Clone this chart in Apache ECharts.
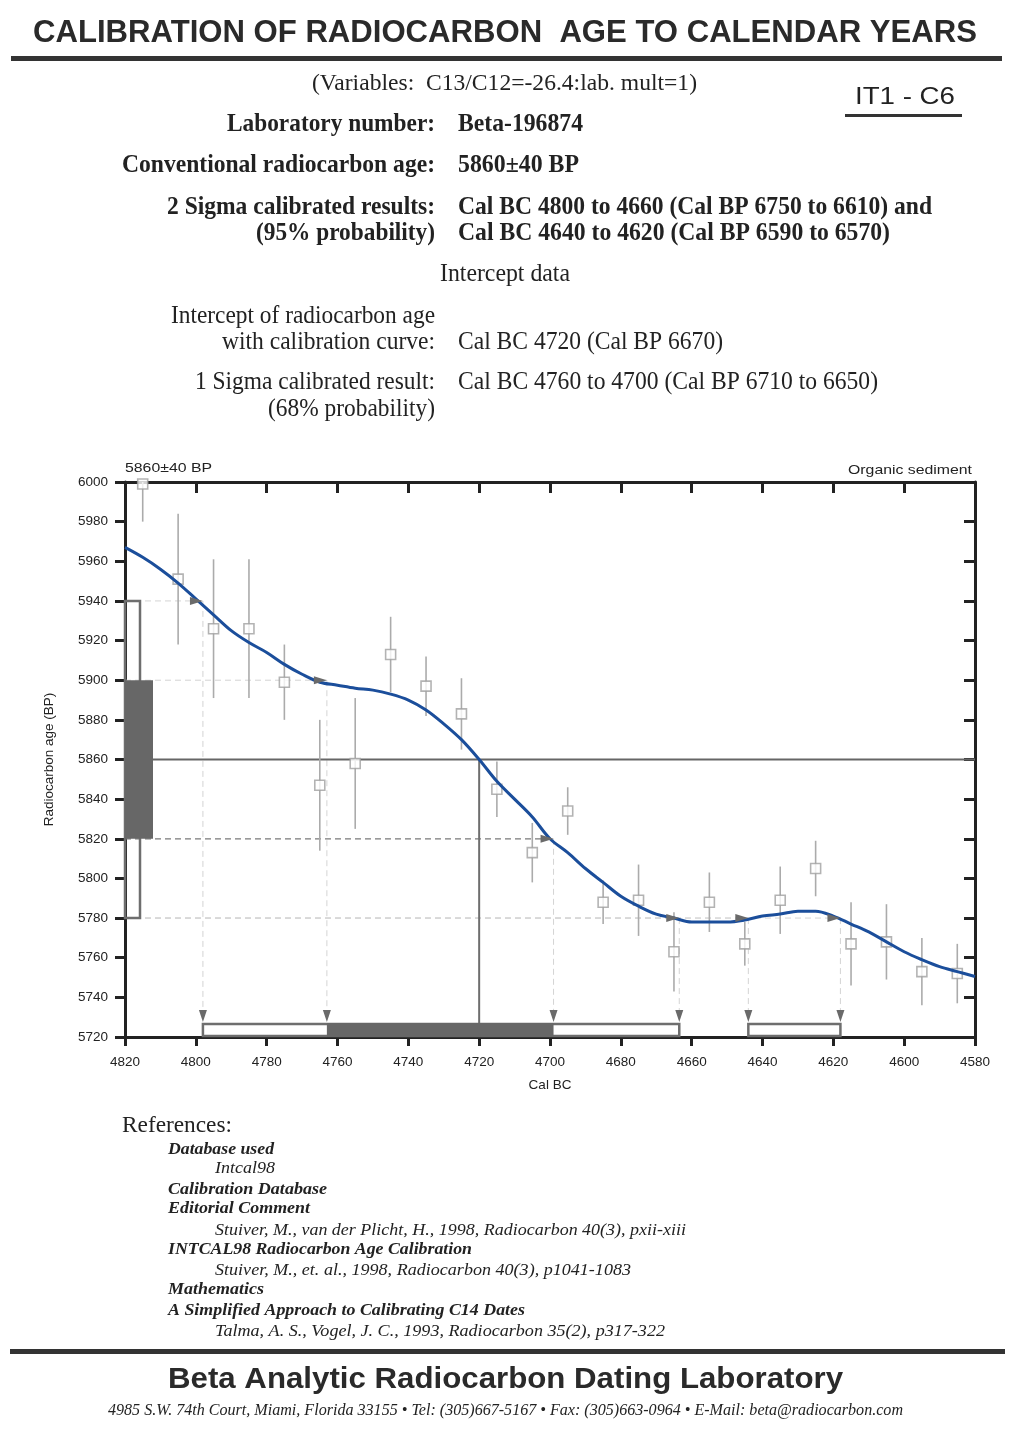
<!DOCTYPE html>
<html>
<head>
<meta charset="utf-8">
<script src="https://cdn.jsdelivr.net/npm/echarts@6/dist/echarts.min.js"></script>
<style>
html,body{margin:0;padding:0;background:#fff;}
#page{width:1012px;height:1436px;}
</style>
</head>
<body>
<div id="page"></div>
<script>
// ---------------- DATA ----------------
const xMin = 4580, xMax = 4820, xInterval = 20;           // Cal BC
const yMin = 5720, yMax = 6000, yInterval = 20;           // Radiocarbon age BP

// Calibration curve (INTCAL98)
const curveYears = [4820,4815,4810,4805,4800,4795,4790,4785,4780,4775,4770,4765,4760,4755,4750,4745,4740,4735,4730,4725,4720,4715,4710,4705,4700,4695,4690,4685,4680,4675,4670,4665,4660,4655,4650,4645,4640,4635,4630,4625,4620,4615,4610,4605,4600,4595,4590,4585,4580];
const curveBP    = [5967,5962,5956,5949,5941,5933,5925,5919,5914,5908,5903,5899,5897.5,5896,5895,5893,5890,5885,5878,5870,5860,5849,5840,5831,5820,5813,5805,5798,5791,5786,5782,5780,5778,5778,5778,5779,5781,5782,5783.5,5783.5,5781,5777,5773,5768,5763,5759,5755.5,5753,5750.5];

// Dataset points with 1-sigma error bars
const sampleYears = [4815,4805,4795,4785,4775,4765,4755,4745,4735,4725,4715,4705,4695,4685,4675,4665,4655,4645,4635,4625,4615,4605,4595,4585];
const sampleBP    = [5999,5951,5926,5926,5899,5847,5858,5913,5897,5883,5845,5813,5834,5788,5789,5763,5788,5767,5789,5805,5767,5768,5753,5752];
const sampleErr   = [19,33,35,35,19,33,33,19,15,18,14,15,12,11,18,20,15,11,17,14,21,19,17,15];

// Measured age and sigma ranges
const measuredAge = 5860;
const oneSigmaBP = [5820, 5900];
const twoSigmaBP = [5780, 5940];
const interceptCal = 4720;
const oneSigmaCal = [[4763, 4699]];
const twoSigmaCal = [[4798, 4663.5], [4644, 4618]];
// crossings of sigma limits with the curve
const crossBP  = [5940, 5900, 5820, 5780, 5780, 5780];
const crossCal = [4798, 4763, 4699, 4663.5, 4644, 4618];

// ---------------- CHART ----------------
const chart = echarts.init(document.getElementById('page'), null, {renderer:'canvas', width:1012, height:1436});
const SANS = "'Liberation Sans', Arial, sans-serif";
const SERIF = "'Liberation Serif', 'Times New Roman', serif";
const INK = '#222';

const mctx = document.createElement('canvas').getContext('2d');
function fit(text, font, w){ mctx.font = font; return w / mctx.measureText(text).width; }
function txt(text, x, y, font, w, align, fill){
  const s = w ? fit(text, font, w) : 1;
  return {type:'text', x:x, y:y, scaleX:s, originX:0, originY:0, z:100,
    style:{text:text, x:0, y:0, font:font, fill:fill||INK, align:align||'left', verticalAlign:'middle', textAlign:align||'left', textVerticalAlign:'middle'}};
}

const graphics = [
  txt('CALIBRATION OF RADIOCARBON  AGE TO CALENDAR YEARS', 33, 33, "bold 32px "+SANS, 944, 'left', '#2a2a2a'),
  {type:'rect', shape:{x:11, y:56, width:991, height:5}, style:{fill:'#333'}},
  txt('(Variables:  C13/C12=-26.4:lab. mult=1)', 312, 84, "23px "+SERIF, 385),
  txt('IT1 - C6', 855, 98, "23px "+SANS, 100),
  {type:'rect', shape:{x:845, y:114, width:117, height:3}, style:{fill:'#333'}},
  txt('Laboratory number:', 435, 125, "bold 25px "+SERIF, 208, 'right'),
  txt('Beta-196874', 458, 125, "bold 25px "+SERIF, 125),
  txt('Conventional radiocarbon age:', 435, 166, "bold 25px "+SERIF, 313, 'right'),
  txt('5860±40 BP', 458, 166, "bold 25px "+SERIF, 121),
  txt('2 Sigma calibrated results:', 435, 208, "bold 25px "+SERIF, 268, 'right'),
  txt('Cal BC 4800 to 4660 (Cal BP 6750 to 6610) and', 458, 208, "bold 25px "+SERIF, 474),
  txt('(95% probability)', 435, 234, "bold 25px "+SERIF, 179, 'right'),
  txt('Cal BC 4640 to 4620 (Cal BP 6590 to 6570)', 458, 234, "bold 25px "+SERIF, 432),
  txt('Intercept data', 440, 274, "25px "+SERIF, 130),
  txt('Intercept of radiocarbon age', 435, 316, "25px "+SERIF, 264, 'right'),
  txt('with calibration curve:', 435, 342, "25px "+SERIF, 213, 'right'),
  txt('Cal BC 4720 (Cal BP 6670)', 458, 342, "25px "+SERIF, 265),
  txt('1 Sigma calibrated result:', 435, 382, "25px "+SERIF, 240, 'right'),
  txt('Cal BC 4760 to 4700 (Cal BP 6710 to 6650)', 458, 382, "25px "+SERIF, 420),
  txt('(68% probability)', 435, 409, "25px "+SERIF, 167, 'right'),

  txt('5860±40 BP', 125, 468, "13px "+SANS, 87),
  txt('Organic sediment', 972, 470, "13px "+SANS, 124, 'right'),

  txt('References:', 122, 1126, "24px "+SERIF, 110),
  txt('Database used', 168, 1150, "italic bold 17px "+SERIF, 106),
  txt('Intcal98', 215, 1169, "italic 17px "+SERIF, 60),
  txt('Calibration Database', 168, 1190, "italic bold 17px "+SERIF, 159),
  txt('Editorial Comment', 168, 1209, "italic bold 17px "+SERIF, 142),
  txt('Stuiver, M., van der Plicht, H., 1998, Radiocarbon 40(3), pxii-xiii', 215, 1231, "italic 17px "+SERIF, 471),
  txt('INTCAL98 Radiocarbon Age Calibration', 168, 1250, "italic bold 17px "+SERIF, 304),
  txt('Stuiver, M., et. al., 1998, Radiocarbon 40(3), p1041-1083', 215, 1271, "italic 17px "+SERIF, 416),
  txt('Mathematics', 168, 1290, "italic bold 17px "+SERIF, 96),
  txt('A Simplified Approach to Calibrating C14 Dates', 168, 1311, "italic bold 17px "+SERIF, 357),
  txt('Talma, A. S., Vogel, J. C., 1993, Radiocarbon 35(2), p317-322', 215, 1332, "italic 17px "+SERIF, 450),
  {type:'rect', shape:{x:10, y:1349, width:995, height:5}, style:{fill:'#333'}},
  txt('Beta Analytic Radiocarbon Dating Laboratory', 168, 1380, "bold 30px "+SANS, 675, 'left', '#2a2a2a'),
  txt('4985 S.W. 74th Court, Miami, Florida 33155 • Tel: (305)667-5167 • Fax: (305)663-0964 • E-Mail: beta@radiocarbon.com', 108, 1411, "italic 16px "+SERIF, 795)
];

const axisLineStyle = {color:INK, width:3};
const BAR_H = 14;
const plain = v => String(v);

function gridBottom(api){ return api.coord([xMax, yMin])[1]; }

const option = {
  animation:false,
  backgroundColor:'#fff',
  grid:{left:125, right:37, top:482, bottom:399, containLabel:false},
  xAxis:[
    {type:'value', min:xMin, max:xMax, interval:xInterval, inverse:true, position:'bottom',
     axisLine:{show:true, onZero:false, lineStyle:axisLineStyle},
     axisTick:{show:true, length:9, lineStyle:{color:INK, width:3}},
     axisLabel:{fontSize:13.5, color:INK, margin:18, fontFamily:SANS, formatter:plain},
     splitLine:{show:false},
     name:'Cal BC', nameLocation:'middle', nameGap:41, nameTextStyle:{fontSize:13.5, color:INK, fontFamily:SANS}},
    {type:'value', min:xMin, max:xMax, interval:xInterval, inverse:true, position:'top',
     axisLine:{show:true, onZero:false, lineStyle:axisLineStyle},
     axisTick:{show:true, inside:true, length:11, lineStyle:{color:INK, width:3}},
     axisLabel:{show:false}, splitLine:{show:false}}
  ],
  yAxis:[
    {type:'value', min:yMin, max:yMax, interval:yInterval, position:'left',
     axisLine:{show:true, onZero:false, lineStyle:axisLineStyle},
     axisTick:{show:true, length:10, lineStyle:{color:INK, width:3}},
     axisLabel:{fontSize:13.5, color:INK, margin:17, fontFamily:SANS, formatter:plain},
     splitLine:{show:false},
     name:'Radiocarbon age (BP)', nameLocation:'middle', nameGap:69, nameRotate:90,
     nameTextStyle:{fontSize:13.5, color:INK, fontFamily:SANS}},
    {type:'value', min:yMin, max:yMax, interval:yInterval, position:'right',
     axisLine:{show:true, onZero:false, lineStyle:axisLineStyle},
     axisTick:{show:true, inside:true, length:11, lineStyle:{color:INK, width:3}},
     axisLabel:{show:false}, splitLine:{show:false}}
  ],
  graphic:graphics,
  series:[
    // dashed guide lines from sigma limits to curve and down to calendar axis
    {type:'custom', z:1, silent:true,
     data: crossBP.map((b,i)=>[crossCal[i], b]),
     renderItem:function(params, api){
       const cal = api.value(0), bp = api.value(1);
       const pL = api.coord([xMax, bp]), pC = api.coord([cal, bp]);
       const yB = gridBottom(api) - BAR_H - 8;
       const dark = (bp === oneSigmaBP[0]);
       return {type:'group', children:[
         {type:'line', shape:{x1:pL[0], y1:pC[1], x2:pC[0], y2:pC[1]},
          style:{stroke: dark ? '#7a7a7a' : '#d4d4d4', lineWidth: dark ? 1.2 : 1, lineDash:[6,4]}},
         {type:'line', shape:{x1:pC[0], y1:pC[1], x2:pC[0], y2:yB},
          style:{stroke:'#d4d4d4', lineWidth:1, lineDash:[6,4]}}
       ]};
     }},
    // measured age line
    {type:'line', z:2, silent:true, showSymbol:false, symbol:'none',
     data:[[xMax, measuredAge],[xMin, measuredAge]],
     lineStyle:{color:'#666', width:2}},
    // intercept vertical line
    {type:'custom', z:2, silent:true, data:[[interceptCal, measuredAge]],
     renderItem:function(params, api){
       const p = api.coord([api.value(0), api.value(1)]);
       const yB = gridBottom(api) - BAR_H;
       return {type:'line', shape:{x1:p[0], y1:p[1], x2:p[0], y2:yB}, style:{stroke:'#6e6e6e', lineWidth:2}};
     }},
    // error bars
    {type:'custom', z:3, silent:true,
     data: sampleYears.map((x,i)=>[x, sampleBP[i]-sampleErr[i], sampleBP[i]+sampleErr[i]]),
     renderItem:function(params, api){
       const x = api.value(0);
       const p1 = api.coord([x, Math.max(api.value(1), yMin)]);
       const p2 = api.coord([x, Math.min(api.value(2), yMax)]);
       return {type:'line', shape:{x1:p1[0], y1:p1[1], x2:p2[0], y2:p2[1]}, style:{stroke:'#ababab', lineWidth:1.6}};
     }},
    // dataset points
    {type:'scatter', z:4, silent:true, symbol:'rect', symbolSize:10,
     data: sampleYears.map((x,i)=>[x, sampleBP[i]]),
     itemStyle:{color:'#fff', borderColor:'#a0a0a0', borderWidth:1.6}},
    // calibration curve
    {type:'line', z:5, silent:true, showSymbol:false, symbol:'none', smooth:0.35,
     data: curveYears.map((x,i)=>[x, curveBP[i]]),
     lineStyle:{color:'#1b4e9b', width:3}},
    // probability boxes on the BP axis
    {type:'custom', z:6, silent:true, data:[[twoSigmaBP[0], twoSigmaBP[1], oneSigmaBP[0], oneSigmaBP[1]]],
     renderItem:function(params, api){
       const a = api.coord([xMax, api.value(0)]), b = api.coord([xMax, api.value(1)]);
       const c = api.coord([xMax, api.value(2)]), d = api.coord([xMax, api.value(3)]);
       return {type:'group', children:[
         {type:'rect', shape:{x:a[0], y:b[1], width:15, height:a[1]-b[1]}, style:{fill:'none', stroke:'#6e6e6e', lineWidth:2.5}},
         {type:'rect', shape:{x:a[0], y:d[1], width:28, height:c[1]-d[1]}, style:{fill:'#676767'}}
       ]};
     }},
    // calendar ranges bars (2 sigma outline)
    {type:'custom', z:6, silent:true, data: twoSigmaCal,
     renderItem:function(params, api){
       const a = api.coord([api.value(0), yMin]), b = api.coord([api.value(1), yMin]);
       return {type:'rect', shape:{x:a[0], y:a[1]-BAR_H+1, width:b[0]-a[0], height:BAR_H-2},
               style:{fill:'none', stroke:'#6e6e6e', lineWidth:2.5}};
     }},
    // calendar ranges bars (1 sigma filled)
    {type:'custom', z:7, silent:true, data: oneSigmaCal,
     renderItem:function(params, api){
       const a = api.coord([api.value(0), yMin]), b = api.coord([api.value(1), yMin]);
       return {type:'rect', shape:{x:a[0], y:a[1]-BAR_H, width:b[0]-a[0], height:BAR_H},
               style:{fill:'#676767'}};
     }},
    // arrow heads: at curve crossings (pointing right) and at calendar bars (pointing down)
    {type:'custom', z:8, silent:true,
     data: crossBP.map((b,i)=>[crossCal[i], b]),
     renderItem:function(params, api){
       const p = api.coord([api.value(0), api.value(1)]);
       const yB = gridBottom(api) - BAR_H;
       return {type:'group', children:[
         {type:'polygon', shape:{points:[[p[0],p[1]],[p[0]-13,p[1]-4],[p[0]-13,p[1]+4]]}, style:{fill:'#6a6a6a'}},
         {type:'polygon', shape:{points:[[p[0],yB-1],[p[0]-4,yB-13],[p[0]+4,yB-13]]}, style:{fill:'#6a6a6a'}}
       ]};
     }}
  ]
};
chart.setOption(option);
</script>
</body>
</html>
